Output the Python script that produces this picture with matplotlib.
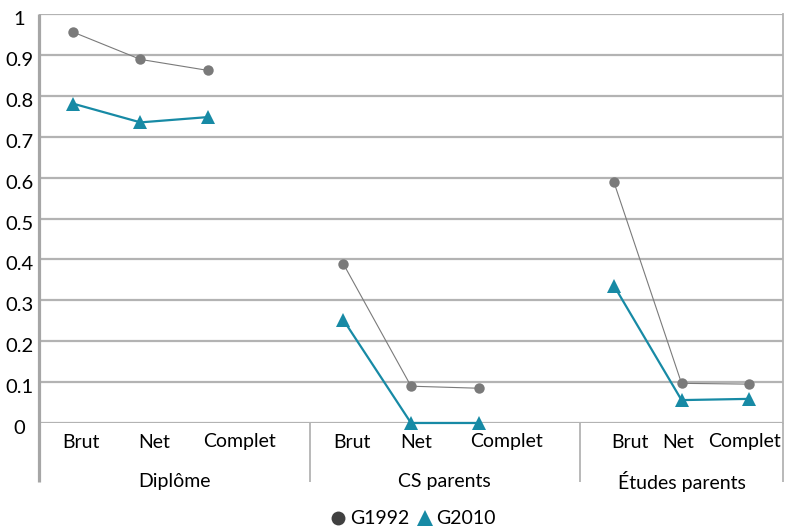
import numpy as np
import matplotlib
matplotlib.use('Agg')
import matplotlib.pyplot as plt
from matplotlib.lines import Line2D
from matplotlib.transforms import ScaledTranslation

plt.rcParams['font.family'] = ['Lato', 'DejaVu Sans']

# Data
groups = ['Diplôme', 'CS parents', 'Études parents']
sub_labels = ['Brut', 'Net', 'Complet']
g1992 = [[0.956, 0.889, 0.862],
         [0.389, 0.090, 0.085],
         [0.589, 0.097, 0.095]]
g2010 = [[0.781, 0.735, 0.748],
         [0.252, 0.0, 0.0],
         [0.336, 0.056, 0.059]]
y_ticks = [0, 0.1, 0.2, 0.3, 0.4, 0.5, 0.6, 0.7, 0.8, 0.9, 1]
y_tick_labels = ['0', '0.1', '0.2', '0.3', '0.4', '0.5', '0.6', '0.7', '0.8', '0.9', '1']

# slot layout: each group 3 points, a blank slot between groups
group_start = [0, 4, 8]
# label centres (slot units), labels in the original are not centred on points
label_pos = [[0.12, 1.21, 2.47], [4.13, 5.08, 6.41], [8.23, 8.95, 9.93]]
separators = [-0.5, 3.5, 7.5, 10.5]

GREY = '#7a7a7a'
TEAL = '#178aa5'
GRID = '#b3b3b3'
FS = 14

fig = plt.figure(figsize=(7.85, 5.30), dpi=100)
ax = fig.add_axes([39/785, 1 - 423/530, (783 - 39)/785, (423 - 14)/530])

for g in range(3):
    xs = np.arange(3) + group_start[g]
    ax.plot(xs, g1992[g], color=GREY, lw=0.8, marker='o', markersize=7.5,
            markeredgewidth=0, zorder=3, clip_on=False)
    ax.plot(xs, g2010[g], color=TEAL, lw=1.6, marker='^', markersize=9.5,
            markeredgewidth=0, zorder=4, clip_on=False)

ax.set_xlim(-0.5, 10.5)
ax.set_ylim(0, 1)
ax.set_yticks(y_ticks)
ax.set_yticklabels(y_tick_labels, fontsize=FS + 0.5, ha='center')
ax.tick_params(axis='y', length=0, pad=14.4)
for lab in ax.get_yticklabels():
    lab.set_transform(lab.get_transform() + ScaledTranslation(0, -4/100, fig.dpi_scale_trans))
ax.set_xticks([])
ax.grid(axis='y', color=GRID, lw=1.6, zorder=0)
ax.set_axisbelow(True)

for s in ['top', 'bottom']:
    ax.spines[s].set_visible(False)
ax.spines['right'].set_color(GRID)
ax.spines['right'].set_linewidth(1.3)
ax.spines['left'].set_visible(False)

# category labels and separators below the axis
trans = ax.get_xaxis_transform()
for g in range(3):
    for k, lab in enumerate(sub_labels):
        ax.text(label_pos[g][k], -19/409, lab, transform=trans, ha='center', va='center',
                fontsize=FS, color='black')
    mid = (separators[g] + separators[g + 1]) / 2
    ax.text(mid, -58/409, groups[g], transform=trans, ha='center', va='center',
            fontsize=FS, color='black')

for i, sx in enumerate(separators):
    if i == 0:
        ax.plot([sx, sx], [1, -59/409], transform=trans, color='#a6a6a6', lw=2.3,
                clip_on=False, zorder=5, solid_capstyle='butt')
    else:
        ax.plot([sx, sx], [0, -59/409], transform=trans, color=GRID, lw=1.3,
                clip_on=False, zorder=5, solid_capstyle='butt')

handles = [Line2D([], [], ls='none', marker='o', color='#404040', markersize=10, markeredgewidth=0),
           Line2D([], [], ls='none', marker='^', color=TEAL, markersize=11, markeredgewidth=0)]
fig.legend(handles, ['G1992', 'G2010'], loc='center', bbox_to_anchor=(413/785, 1 - 519/530),
           ncol=2, frameon=False, fontsize=FS, handlelength=0.8, handletextpad=0.2,
           columnspacing=0.4)

fig.savefig('out.png', dpi=100)
